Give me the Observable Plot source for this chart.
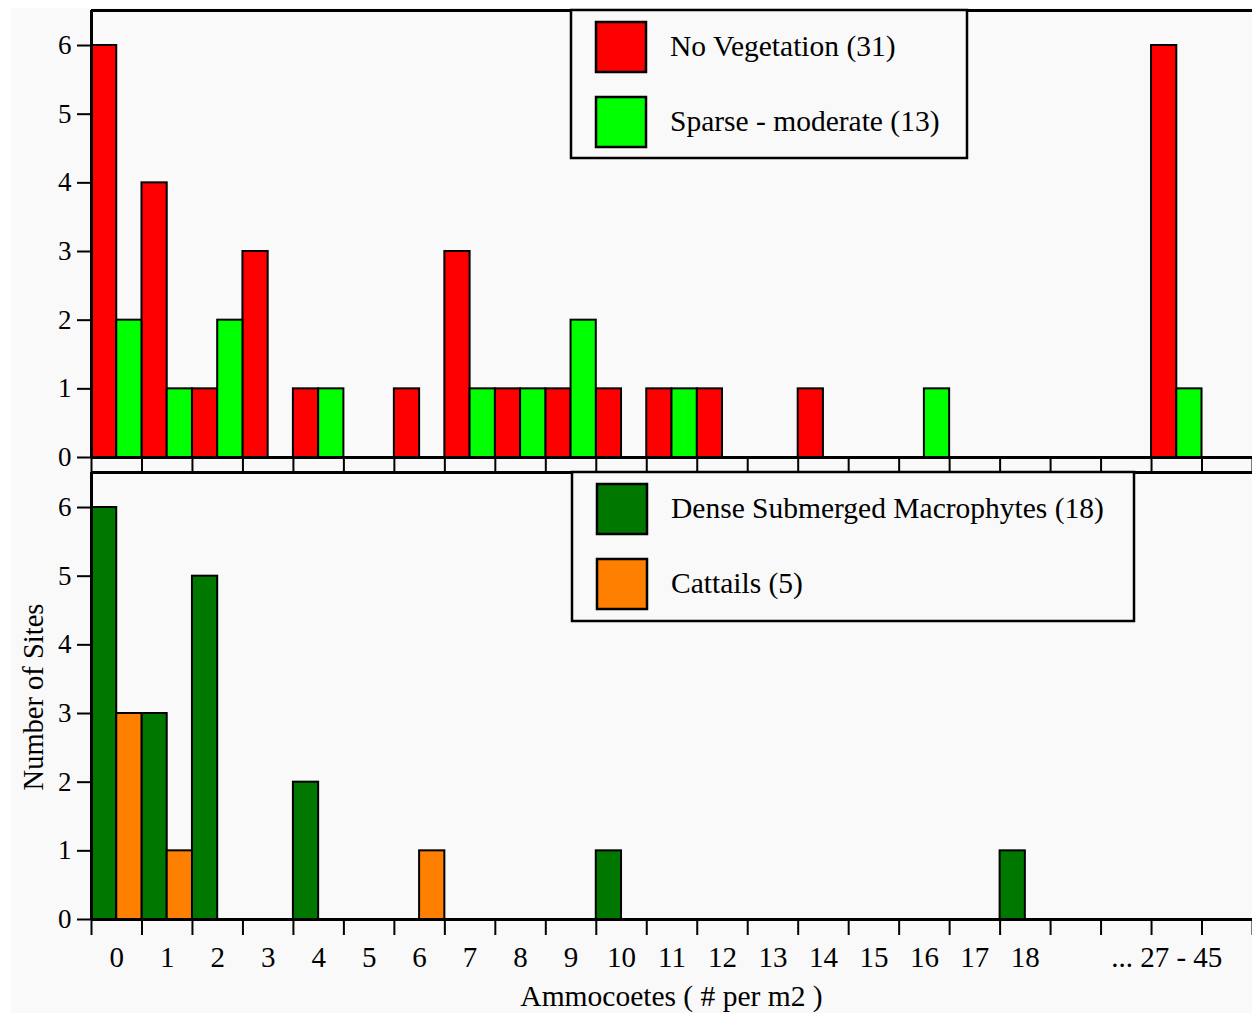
<!DOCTYPE html>
<html>
<head>
<meta charset="utf-8">
<script src="https://cdn.jsdelivr.net/npm/d3@7"></script>
<script src="https://cdn.jsdelivr.net/npm/@observablehq/plot@0.6"></script>
<style>
  html, body { margin: 0; padding: 0; background: #ffffff; }
  #wrap { position: relative; width: 1252px; height: 1013px; overflow: hidden;
          font-family: "Liberation Serif", "Times New Roman", serif; }
  #bg { position: absolute; left: 11px; top: 8px; right: 0; bottom: 0; background: #f9f9f9; }
  .abs { position: absolute; left: 0; }
  #overlay { position: absolute; left: 0; top: 0; }
</style>
</head>
<body>
<div id="wrap"><div id="bg"></div></div>
<script>
// ---- data ----
const slotLabels = ["0","1","2","3","4","5","6","7","8","9","10","11","12","13","14","15","16","17","18","","","... 27 - 45",""];

const topNames = ["No Vegetation", "Sparse - moderate"];
const noVegetation   = [6,4,1,3,1,0,1,3,1,1,1,1,1,0,1,0,0,0,0,0,0,6,0];
const sparseModerate = [2,1,2,0,1,0,0,1,1,2,0,1,0,0,0,0,1,0,0,0,0,1,0];
const topColors = ["#ff0000", "#00ff00"];

const bottomNames = ["Dense Submerged Macrophytes", "Cattails"];
const denseMacrophytes = [6,3,5,0,2,0,0,0,0,0,1,0,0,0,0,0,0,0,1,0,0,0,0];
const cattails         = [3,1,0,0,0,0,1,0,0,0,0,0,0,0,0,0,0,0,0,0,0,0,0];
const bottomColors = ["#007800", "#ff8000"];

const yTicks = [0,1,2,3,4,5,6];
const yMax = 6.51;
const xTitle = "Ammocoetes ( # per m2 )";
const yTitle = "Number of Sites";

// ---- build ----
const FONT = "'Liberation Serif', 'Times New Roman', serif";
const W = 1252;
const nSlots = slotLabels.length;

function rows(names, arrays) {
  const out = [];
  names.forEach((name, j) => arrays[j].forEach((v, i) => {
    if (v > 0) out.push({series: name, sub: j, slot: i, value: v});
  }));
  return out;
}

function panel({names, arrays, colors, height, marginTop, marginBottom, labels}) {
  const data = rows(names, arrays);
  const k = names.length;
  const marks = [
    Plot.rect(data, {
      x1: d => d.slot + d.sub / k,
      x2: d => d.slot + (d.sub + 1) / k,
      y1: d => 0,
      y2: "value",
      fill: "series",
      stroke: "#000",
      strokeWidth: 2
    }),
    Plot.ruleY([0], {stroke: "#000", strokeWidth: 3}),
    Plot.ruleY([yMax], {stroke: "#000", strokeWidth: 3}),
    Plot.ruleX([0], {stroke: "#000", strokeWidth: 3}),
    Plot.axisY({ticks: yTicks, tickSize: 14, tickPadding: 6, fontSize: 27,
                tickFormat: d => String(d), label: null, stroke: "#000", strokeWidth: 2}),
    Plot.axisX({ticks: d3.range(0, nSlots + 1), tickSize: labels ? 16 : 15,
                tickFormat: () => "", label: null, stroke: "#000", strokeWidth: 2})
  ];
  if (labels) {
    const mainTicks = d3.range(0, nSlots).filter(i => slotLabels[i] !== "" && !slotLabels[i].startsWith("...")).map(i => i + 0.5);
    const lastTicks = d3.range(0, nSlots).filter(i => slotLabels[i].startsWith("...")).map(i => i + 0.5);
    marks.push(Plot.axisX({ticks: mainTicks, tickSize: 0, tickPadding: 27, fontSize: 29,
                           tickFormat: v => slotLabels[Math.floor(v)], label: null}));
    marks.push(Plot.axisX({ticks: lastTicks, tickSize: 0, tickPadding: 27, fontSize: 29, dx: -10,
                           tickFormat: v => slotLabels[Math.floor(v)], label: null}));
  }
  return Plot.plot({
    width: W,
    height,
    marginLeft: 91,
    marginRight: 0,
    marginTop,
    marginBottom,
    style: {background: "transparent", fontFamily: FONT, color: "#000", overflow: "visible"},
    x: {type: "linear", domain: [0, nSlots]},
    y: {domain: [0, yMax]},
    color: {domain: names, range: colors},
    marks
  });
}

const wrap = document.getElementById("wrap");

const topPlot = panel({names: topNames, arrays: [noVegetation, sparseModerate], colors: topColors,
                       height: 472, marginTop: 10, marginBottom: 15, labels: false});
topPlot.classList.add("abs");
topPlot.style.top = "0px";
wrap.appendChild(topPlot);

const bottomPlot = panel({names: bottomNames, arrays: [denseMacrophytes, cattails], colors: bottomColors,
                          height: 543, marginTop: 2, marginBottom: 94, labels: true});
bottomPlot.classList.add("abs");
bottomPlot.style.top = "470px";
wrap.appendChild(bottomPlot);

// ---- legends and titles overlay ----
const ov = d3.select(wrap).append("svg").attr("id", "overlay")
  .attr("width", W).attr("height", 1013)
  .style("font-family", FONT);

function legend(box, names, arrays, colors) {
  const g = ov.append("g");
  g.append("rect").attr("x", box.x).attr("y", box.y).attr("width", box.w).attr("height", box.h)
    .attr("fill", "#f9f9f9").attr("stroke", "#000").attr("stroke-width", 2.5);
  names.forEach((name, j) => {
    const y0 = box.y + 12 + j * 75;
    g.append("rect").attr("x", box.x + 25).attr("y", y0).attr("width", 50).attr("height", 50)
      .attr("fill", colors[j]).attr("stroke", "#000").attr("stroke-width", 2.5);
    g.append("text").attr("x", box.x + 99).attr("y", y0 + 34)
      .attr("font-size", 29.5).attr("fill", "#000")
      .text(`${name} (${d3.sum(arrays[j])})`);
  });
}
legend({x: 571, y: 10, w: 396, h: 148}, topNames, [noVegetation, sparseModerate], topColors);
legend({x: 572, y: 472, w: 562, h: 149}, bottomNames, [denseMacrophytes, cattails], bottomColors);

ov.append("text").attr("x", (91 + W) / 2).attr("y", 1006).attr("text-anchor", "middle")
  .attr("font-size", 29.5).attr("fill", "#000").text(xTitle);
ov.append("text").attr("transform", "translate(43,697) rotate(-90)").attr("text-anchor", "middle")
  .attr("font-size", 28.5).attr("fill", "#000").text(yTitle);
</script>
</body>
</html>
